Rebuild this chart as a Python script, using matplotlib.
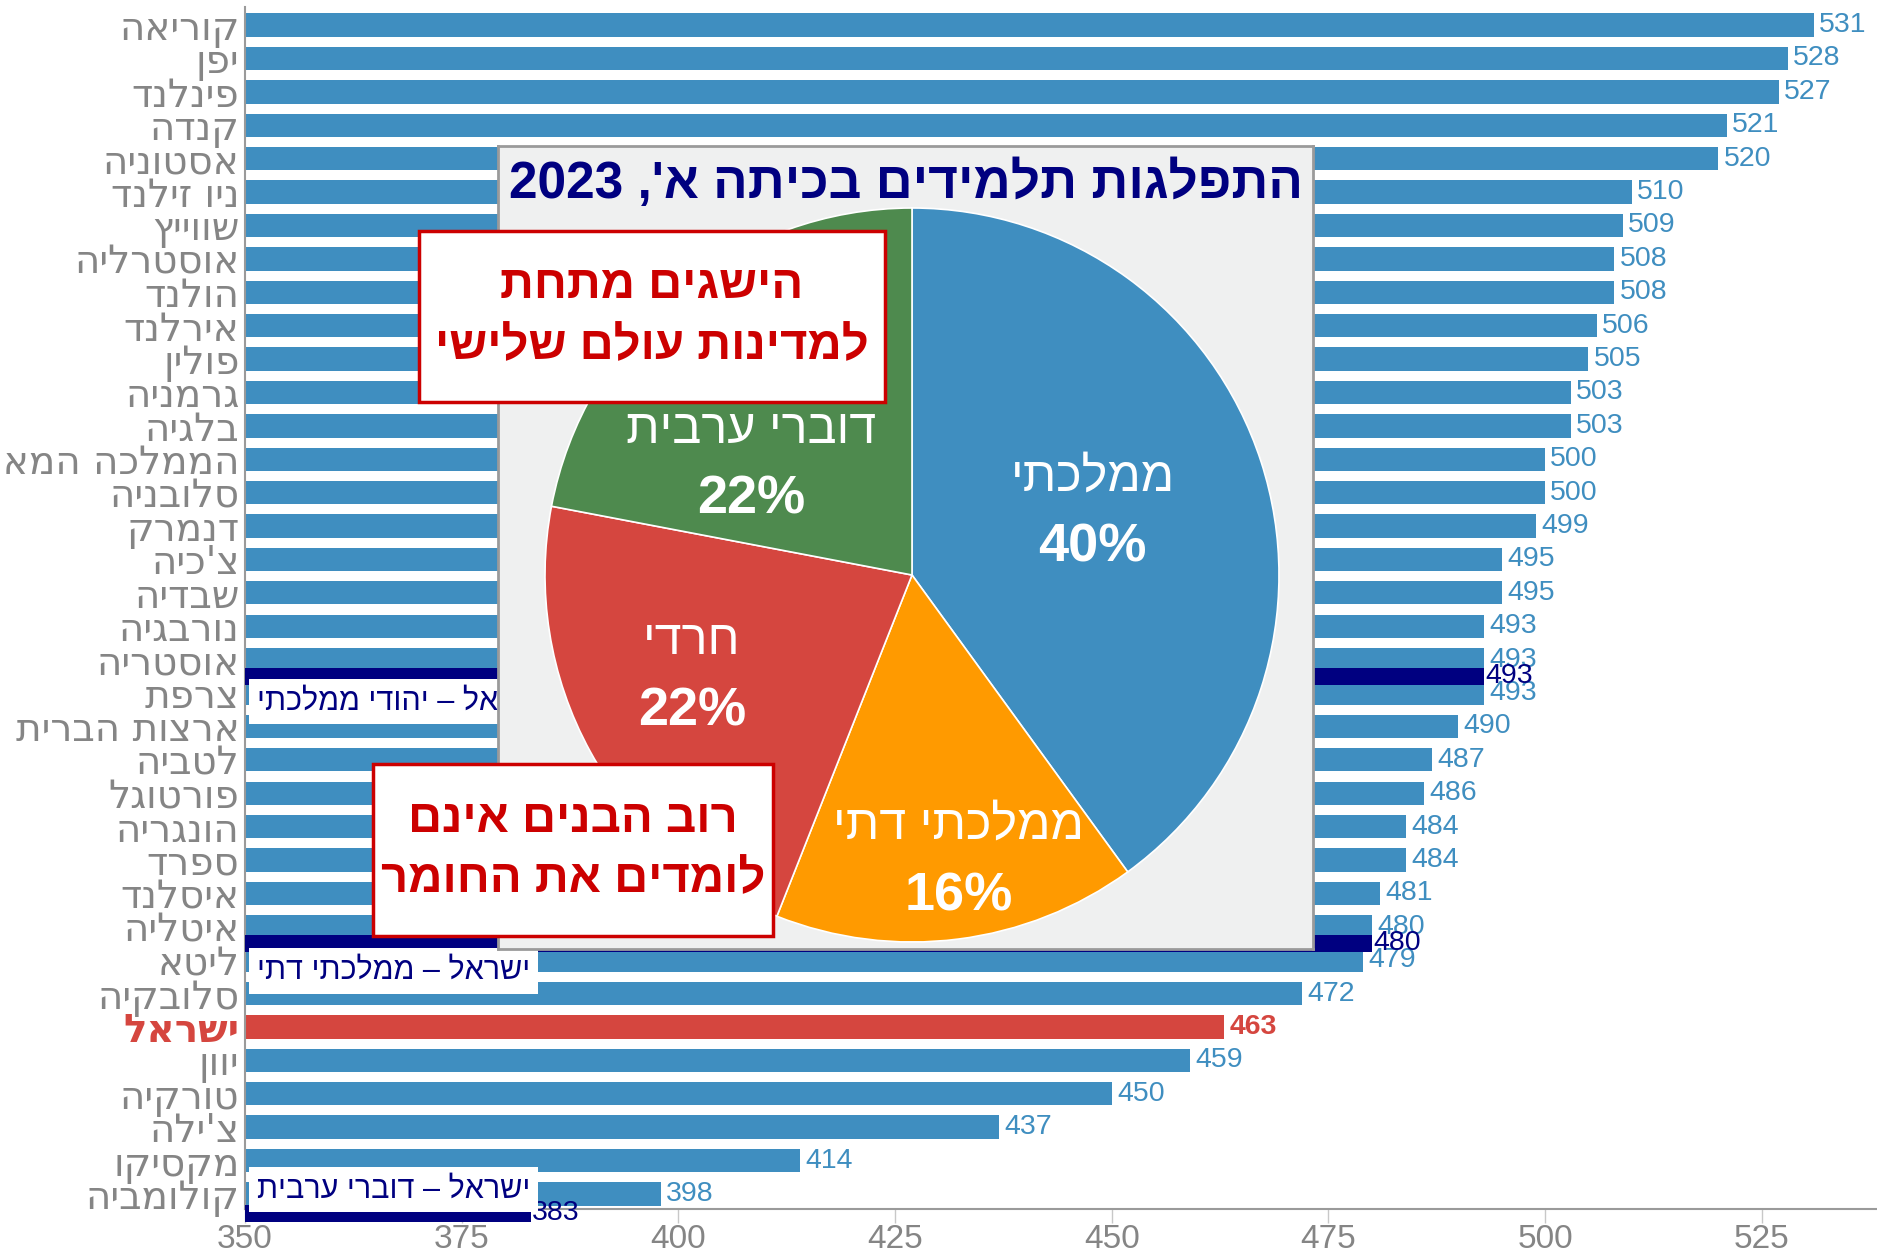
import re
import numpy as np
import matplotlib
matplotlib.use("Agg")
import matplotlib.pyplot as plt
from matplotlib.patches import Rectangle

# ---------------- data ----------------
countries = ["קוריאה", "יפן", "פינלנד", "קנדה", "אסטוניה", "ניו זילנד", "שווייץ",
             "אוסטרליה", "הולנד", "אירלנד", "פולין", "גרמניה", "בלגיה",
             "הממלכה המאוחדת", "סלובניה", "דנמרק", "צ'כיה", "שבדיה", "נורבגיה",
             "אוסטריה", "צרפת", "ארצות הברית", "לטביה", "פורטוגל", "הונגריה",
             "ספרד", "איסלנד", "איטליה", "ליטא", "סלובקיה", "ישראל", "יוון",
             "טורקיה", "צ'ילה", "מקסיקו", "קולומביה"]
scores = [531, 528, 527, 521, 520, 510, 509, 508, 508, 506, 505, 503, 503,
          500, 500, 499, 495, 495, 493, 493, 493, 490, 487, 486, 484, 484,
          481, 480, 479, 472, 463, 459, 450, 437, 414, 398]
highlight = "ישראל"

group_names = ["ישראל – יהודי ממלכתי", "ישראל – ממלכתי דתי", "ישראל – דוברי ערבית"]
group_scores = [493, 480, 383]

x_ticks = [350, 375, 400, 425, 450, 475, 500, 525]

pie_title = "התפלגות תלמידים בכיתה א', 2023"
pie_names = ["ממלכתי", "ממלכתי דתי", "חרדי", "דוברי ערבית"]
pie_shares = [40, 16, 22, 22]

note_top = "הישגים מתחת\nלמדינות עולם שלישי"
note_bottom = "רוב הבנים אינם\nלומדים את החומר"

# ---------------- style ----------------
BLUE = "#3F8EC0"
RED = "#D5463F"
NAVY = "#000080"
GRAY = "#858585"
pie_colors = [BLUE, "#FF9A00", "#D5463F", "#4E8A4E"]
SANS = ["Liberation Sans", "DejaVu Sans"]
LABEL_FONT = ["DejaVu Sans"]


def heb(s):
    """visual order for RTL text (matplotlib has no bidi)"""
    out = []
    for line in s.split("\n"):
        r = line[::-1]
        r = re.sub(r"[0-9]+", lambda m: m.group(0)[::-1], r)
        out.append(r)
    return "\n".join(out)


W, H = 1877, 1250
fig = plt.figure(figsize=(W / 100, H / 100), dpi=100)
fig.patch.set_facecolor("white")

# ---------------- main bar chart ----------------
ax_l, ax_r, ax_t, ax_b = 245, W, 7, 1209
ax = fig.add_axes([ax_l / W, 1 - ax_b / H, (ax_r - ax_l) / W, (ax_b - ax_t) / H])
y = np.arange(len(countries))
bar_colors = [RED if c == highlight else BLUE for c in countries]
ax.barh(y, [s - 350 for s in scores], left=350, height=0.7, color=bar_colors, zorder=2)
for yi, s, c in zip(y, scores, countries):
    isr = c == highlight
    ax.text(s + 0.6, yi, str(s), va="center", ha="left", fontsize=20.5,
            family=SANS, color=RED if isr else BLUE,
            fontweight="bold" if isr else "normal", zorder=3)

# Israel sub-groups (navy bars placed between country rows)
grp_pos = [y[countries.index("אוסטריה")] + 0.5,
           y[countries.index("איטליה")] + 0.5,
           y[countries.index("קולומביה")] + 0.58]
lbl_pos = [grp_pos[0] + 0.75, grp_pos[1] + 0.82, grp_pos[2] - 0.72]
for gp, gs, gn, lp in zip(grp_pos, group_scores, group_names, lbl_pos):
    ax.barh(gp, gs - 350, left=350, height=0.5, color=NAVY, zorder=4, clip_on=False)
    ax.text(gs + 0.15, gp, str(gs), va="center", ha="left", fontsize=20.5,
            family=SANS, color=NAVY, zorder=5, clip_on=False)
    ax.text(351.4, lp, heb(gn), va="center", ha="left", fontsize=22, family=SANS,
            color=NAVY, zorder=5,
            bbox=dict(boxstyle="square,pad=0.25", facecolor="white", edgecolor="none"))

ax.set_xlim(350, 538.3)
ax.set_ylim(len(countries) - 0.55, -0.54)
ax.set_yticks(y)
ax.set_yticklabels([heb(c) for c in countries], family=LABEL_FONT)
ax.tick_params(axis="y", length=0, pad=4, labelsize=28, labelcolor=GRAY)
for lbl, c in zip(ax.get_yticklabels(), countries):
    if c == highlight:
        lbl.set_color(RED)
        lbl.set_fontweight("bold")
ax.set_xticks(x_ticks)
ax.set_xticklabels([str(t) for t in x_ticks], family=SANS)
ax.tick_params(axis="x", length=10, width=1, color="#C8C8C8", labelsize=24,
               labelcolor=GRAY, pad=1)
for sp in ["top", "right"]:
    ax.spines[sp].set_visible(False)
for sp in ["left", "bottom"]:
    ax.spines[sp].set_color("#9A9A9A")
    ax.spines[sp].set_linewidth(1.5)

# ---------------- inset panel ----------------
in_l, in_r, in_t, in_b = 498, 1313, 146, 949
inax = fig.add_axes([in_l / W, 1 - in_b / H, (in_r - in_l) / W, (in_b - in_t) / H])
inax.set_facecolor("#EFF0F0")
inax.set_xticks([])
inax.set_yticks([])
for sp in inax.spines.values():
    sp.set_color("#9A9A9A")
    sp.set_linewidth(2)

fig.text(906 / W, 1 - 184 / H, heb(pie_title), ha="center", va="center",
         fontsize=37, fontweight="bold", color=NAVY, family=SANS)

# pie
cx, cy, R = 912, 575, 367
pax = fig.add_axes([(cx - R) / W, 1 - (cy + R) / H, 2 * R / W, 2 * R / H])
wedges, _ = pax.pie(pie_shares, colors=pie_colors, startangle=90, counterclock=False,
                    wedgeprops=dict(edgecolor="white", linewidth=1.2))
pax.set_xlim(-1, 1)
pax.set_ylim(-1, 1)
pax.axis("off")

lbl_r = [0.52, 0.79, 0.66, 0.53]
lbl_shift = [1, 2, -4, 16]
for w, name, share, r, sh in zip(wedges, pie_names, pie_shares, lbl_r, lbl_shift):
    ang = np.deg2rad((w.theta1 + w.theta2) / 2 + sh)
    lx, ly = r * np.cos(ang), r * np.sin(ang)
    pax.text(lx, ly + 0.095, heb(name), ha="center", va="center", color="white",
             fontsize=35, family=SANS)
    pax.text(lx, ly - 0.095, f"{share}%", ha="center", va="center", color="white",
             fontsize=39, fontweight="bold", family=SANS)

# ---------------- red notes ----------------
def note(text, x0, x1, y0, y1):
    fig.patches.append(Rectangle((x0 / W, 1 - y1 / H), (x1 - x0) / W, (y1 - y0) / H,
                                 transform=fig.transFigure, facecolor="white",
                                 edgecolor="#CC0000", linewidth=2.5, zorder=10))
    fig.text((x0 + x1) / 2 / W, 1 - (y0 + y1) / 2 / H, heb(text), ha="center",
             va="center", fontsize=34, fontweight="bold", color="#CC0000",
             family=SANS, linespacing=1.5, zorder=11)

note(note_top, 419, 885, 231, 402)
note(note_bottom, 373, 773, 764, 936)

fig.savefig("out.png", dpi=100, facecolor="white")
